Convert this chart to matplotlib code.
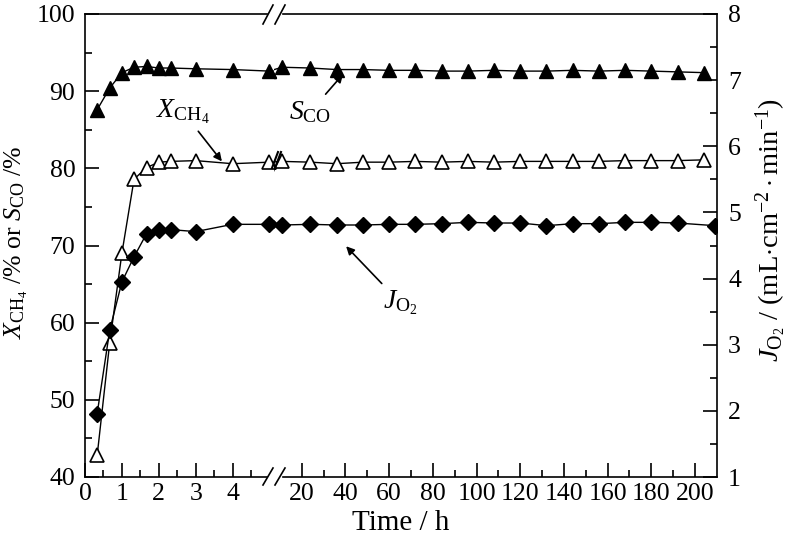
import numpy as np
import matplotlib
matplotlib.use('Agg')
import matplotlib.pyplot as plt
from matplotlib.lines import Line2D
from matplotlib.ticker import MultipleLocator, FixedLocator

plt.rcParams['font.family'] = 'Liberation Serif'
plt.rcParams['mathtext.fontset'] = 'custom'
plt.rcParams['mathtext.rm'] = 'Liberation Serif'
plt.rcParams['mathtext.it'] = 'Liberation Serif:italic'
plt.rcParams['font.size'] = 18.5

# time points (h)
time = [0.33, 0.67, 1.0, 1.33, 1.67, 2.0, 2.33, 3.0, 4.0, 5.0, 11,
        24, 36, 48, 60, 72, 84, 96, 108, 120, 132, 144, 156, 168, 180, 192, 204]
time_o2 = time[:-1] + [209]

# CO selectivity (%)
s_co = [87.6, 90.4, 92.4, 93.1, 93.2, 93.0, 93.0, 92.9, 92.8, 92.6, 93.1,
        93.0, 92.8, 92.8, 92.7, 92.7, 92.6, 92.6, 92.7, 92.6, 92.6, 92.7,
        92.6, 92.7, 92.6, 92.5, 92.4]
# CH4 conversion (%)
x_ch4 = [42.8, 57.4, 69.0, 78.6, 80.1, 80.8, 80.9, 81.0, 80.6, 80.8, 80.9,
         80.8, 80.6, 80.8, 80.8, 80.9, 80.8, 80.9, 80.8, 80.9, 80.9, 80.9,
         80.9, 81.0, 81.0, 81.0, 81.1]
# oxygen permeation flux (mL cm-2 min-1)
j_o2 = [1.96, 3.22, 3.95, 4.33, 4.68, 4.73, 4.74, 4.71, 4.82, 4.82, 4.81,
        4.82, 4.81, 4.81, 4.82, 4.82, 4.83, 4.85, 4.84, 4.84, 4.80, 4.83,
        4.83, 4.85, 4.85, 4.84, 4.80]

W, H = 800, 548
fig = plt.figure(figsize=(8, 5.48), dpi=100)

x0, xb, x1 = 85, 274, 717
yb, yt = 477, 14
bottom = 1 - yb / H
height = (yb - yt) / H
axL = fig.add_axes([x0 / W, bottom, (xb - x0) / W, height])
axR = fig.add_axes([xb / W, bottom, (x1 - xb) / W, height])
axR.patch.set_visible(False)
axL2 = axL.twinx()
axR2 = axR.twinx()

axL.set_xlim(0, 5.122)
axR.set_xlim(7.3, 210.05)
for ax in (axL, axR):
    ax.set_ylim(40, 100)
for ax in (axL2, axR2):
    ax.set_ylim(1, 8)

tri_f = dict(marker='^', markersize=10.5, color='black', markerfacecolor='black')
tri_o = dict(marker='^', markersize=10.5, color='black', markerfacecolor='white',
             markeredgewidth=1.2)
dia = dict(marker='D', markersize=8, color='black', markerfacecolor='black')

series = [(axL, axR, time, s_co, tri_f), (axL, axR, time, x_ch4, tri_o),
          (axL2, axR2, time_o2, j_o2, dia)]
for a_left, a_right, t, v, st in series:
    t = np.array(t)
    v = np.array(v)
    # left segment: line clipped, markers free so they cross the break
    a_left.plot(t, v, '-', color='black', lw=1.0, zorder=2)
    m = t <= 5.122
    a_left.plot(t[m], v[m], linestyle='none', clip_on=False, zorder=3, **st)
    # right segment
    a_right.plot(t, v, '-', lw=1.0, zorder=3, **st)

# spines
axL.spines['right'].set_visible(False)
axR.spines['left'].set_visible(False)
axR.spines['right'].set_visible(False)
for sp in axL2.spines.values():
    sp.set_visible(False)
for sp in ('left', 'top', 'bottom'):
    axR2.spines[sp].set_visible(False)
for ax in (axL, axR, axR2):
    for sp in ax.spines.values():
        sp.set_linewidth(1.2)
axL.spines['bottom'].set_bounds(0, 4.93)
axL.spines['top'].set_bounds(0, 4.93)
axR.spines['bottom'].set_bounds(11.4, 210.05)
axR.spines['top'].set_bounds(11.4, 210.05)

# ticks
tick_kw = dict(direction='in', width=1.2)
axL.xaxis.set_major_locator(FixedLocator([0, 1, 2, 3, 4]))
axL.xaxis.set_minor_locator(FixedLocator([0.5, 1.5, 2.5, 3.5, 4.5]))
axL.yaxis.set_major_locator(MultipleLocator(10))
axL.yaxis.set_minor_locator(MultipleLocator(5))
axL.tick_params(which='major', length=10, top=False, right=False, pad=7, **tick_kw)
axL.tick_params(which='minor', length=5, top=False, right=False, **tick_kw)
axL.tick_params(axis='x', pad=4)

axR.xaxis.set_major_locator(FixedLocator(list(range(20, 201, 20))))
axR.xaxis.set_minor_locator(FixedLocator(list(range(30, 201, 20))))
axR.tick_params(which='major', length=10, top=False, left=False, right=False,
                labelleft=False, pad=4, **tick_kw)
axR.tick_params(which='minor', length=5, top=False, left=False, right=False, **tick_kw)
axR.yaxis.set_major_locator(FixedLocator([]))
axR.yaxis.set_minor_locator(FixedLocator([]))

axL2.tick_params(which='both', right=False, labelright=False)
axL2.yaxis.set_major_locator(FixedLocator([]))
axR2.yaxis.set_major_locator(MultipleLocator(1))
axR2.yaxis.set_minor_locator(MultipleLocator(0.5))
axR2.tick_params(which='major', length=10, pad=8, **tick_kw)
axR2.tick_params(which='minor', length=5, **tick_kw)

# axis break marks
for xs in ((263, 273), (275, 285)):
    for ys in ((485, 468), (24, 5)):
        fig.add_artist(Line2D([xs[0] / W, xs[1] / W], [1 - ys[0] / H, 1 - ys[1] / H],
                              color='black', lw=1.2, transform=fig.transFigure))
# small break mark on the X_CH4 line
for xs in ((272, 278), (275, 281)):
    fig.add_artist(Line2D([xs[0] / W, xs[1] / W], [1 - 168 / H, 1 - 152 / H],
                          color='black', lw=1.5, transform=fig.transFigure))

# labels
fig.text((x0 + x1) / 2 / W, 1 - 523 / H, 'Time / h', ha='center', va='center',
         fontsize=21)
fig.text(16 / W, 1 - 242 / H, r'$X_{\mathrm{CH}_4}$ /% or $S_{\mathrm{CO}}$ /%',
         rotation=90, ha='center', va='center', fontsize=18.5)
fig.text(771 / W, 1 - 230 / H,
         r'$J_{\mathrm{O}_2}$ / (mL$\cdot$cm$^{-2}\cdot$min$^{-1}$)',
         rotation=90, ha='center', va='center', fontsize=20.5)

# annotations
arrow = dict(arrowstyle='-|>', color='black', lw=1.2, mutation_scale=12,
             shrinkA=2, shrinkB=0)
axL.annotate(r'$X_{\mathrm{CH}_4}$', xy=(3.71, 80.9), xytext=(2.66, 87.3),
             ha='center', va='center', arrowprops=arrow, annotation_clip=False,
             fontsize=20)
axR.annotate(r'$S_{\mathrm{CO}}$', xy=(38.9, 92.2), xytext=(23.8, 87.3),
             ha='center', va='center', arrowprops=arrow, fontsize=20)
axR.annotate(r'$J_{\mathrm{O}_2}$', xy=(40.3, 69.9), xytext=(65, 62.6),
             ha='center', va='center', arrowprops=arrow, fontsize=20)

fig.savefig('out.png', dpi=100)
